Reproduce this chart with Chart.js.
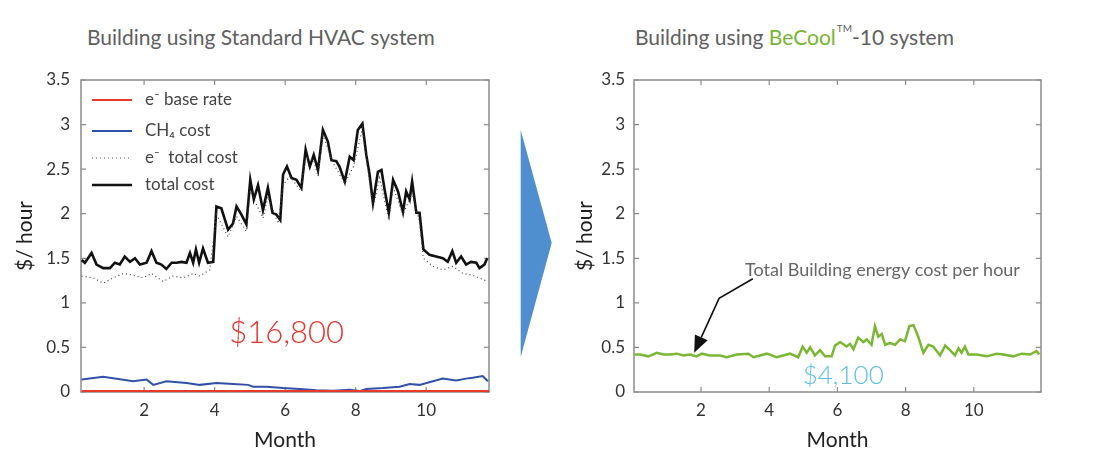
<!DOCTYPE html>
<html>
<head>
<meta charset="utf-8">
<script src="https://cdn.jsdelivr.net/npm/chart.js@4/dist/chart.umd.min.js"></script>
<style>
  body { margin: 0; background: #fff; font-family: Lato, sans-serif; }
  #wrap { position: relative; width: 1100px; height: 457px; overflow: hidden; }
  canvas { position: absolute; top: 0; }
  .title { position: absolute; top: 24px; font-size: 21px; color: #606060; white-space: nowrap; }
  .green { color: #77b633; }
  .tm { font-size: 10px; position: relative; top: -13px; margin-left: 1px; }
</style>
</head>
<body>
<div id="wrap">
  <div class="title" style="left:87px">Building using Standard HVAC system</div>
  <div class="title" style="left:635px">Building using <span class="green">BeCool</span><span class="tm">TM</span>-10 system</div>
  <canvas id="left" width="520" height="457" style="left:0"></canvas>
  <canvas id="right" width="540" height="457" style="left:560px"></canvas>
  <svg width="1100" height="457" style="position:absolute;left:0;top:0;pointer-events:none">
    <polygon points="520.7,130 551.7,243 520.7,357" fill="#4f8fd0"/>
  </svg>
</div>
<script>
// tick labels
var xTicks = [2, 4, 6, 8, 10];
var yTicks = [0, 0.5, 1, 1.5, 2, 2.5, 3, 3.5];

// standard HVAC building: total cost ($/hour)
var totalMonths = [0.23, 0.32, 0.51, 0.65, 0.84, 1.03, 1.17, 1.31, 1.45, 1.60, 1.74, 1.88, 2.07, 2.21, 2.35, 2.49, 2.63, 2.78, 2.92, 3.06,
  3.20, 3.30, 3.39, 3.47, 3.56, 3.67, 3.81, 3.96, 4.05, 4.19, 4.38, 4.52, 4.62, 4.76, 4.90, 5.01, 5.11, 5.23, 5.37, 5.51,
  5.64, 5.75, 5.86, 5.94, 6.05, 6.18, 6.32, 6.46, 6.58, 6.70, 6.81, 6.93, 7.07, 7.21, 7.31, 7.45, 7.54, 7.69, 7.83, 7.94,
  8.06, 8.19, 8.30, 8.39, 8.49, 8.63, 8.73, 8.82, 8.94, 9.06, 9.20, 9.34, 9.43, 9.53, 9.60, 9.72, 9.81, 9.92, 10.09, 10.28,
  10.47, 10.61, 10.74, 10.85, 10.99, 11.13, 11.27, 11.42, 11.51, 11.65, 11.73];
var totalCost = [1.48, 1.45, 1.56, 1.43, 1.39, 1.39, 1.45, 1.43, 1.52, 1.46, 1.50, 1.43, 1.45, 1.58, 1.45, 1.43, 1.38, 1.45, 1.45, 1.46,
  1.45, 1.56, 1.45, 1.60, 1.45, 1.61, 1.45, 1.46, 2.08, 2.06, 1.82, 1.89, 2.08, 1.99, 1.88, 2.38, 2.16, 2.32, 2.04, 2.29,
  2.01, 1.99, 1.93, 2.44, 2.53, 2.40, 2.38, 2.29, 2.72, 2.53, 2.66, 2.49, 2.94, 2.81, 2.60, 2.59, 2.53, 2.36, 2.64, 2.60,
  2.94, 3.01, 2.66, 2.45, 2.12, 2.47, 2.49, 2.27, 2.01, 2.38, 2.25, 2.02, 2.25, 2.16, 2.36, 2.01, 2.01, 1.60, 1.54, 1.52,
  1.50, 1.46, 1.58, 1.45, 1.52, 1.43, 1.46, 1.45, 1.39, 1.43, 1.50];

// electricity total cost
var elecMonths = [0.23, 0.56, 0.84, 1.12, 1.41, 1.69, 1.97, 2.21, 2.54, 2.82, 3.11, 3.39, 3.58, 3.86, 4.05, 4.38, 4.62, 4.90, 5.01, 5.37,
  5.51, 5.80, 5.94, 6.13, 6.46, 6.58, 6.81, 6.93, 7.07, 7.36, 7.69, 7.94, 8.19, 8.49, 8.68, 8.94, 9.06, 9.34, 9.60, 9.81,
  9.92, 10.19, 10.47, 10.76, 11.04, 11.32, 11.51, 11.73];
var elecCost = [1.30, 1.28, 1.22, 1.28, 1.33, 1.31, 1.28, 1.33, 1.24, 1.30, 1.28, 1.33, 1.30, 1.37, 1.99, 1.74, 1.97, 1.80, 2.25, 1.95,
  2.19, 1.89, 2.32, 2.42, 2.25, 2.64, 2.60, 2.42, 2.88, 2.57, 2.34, 2.53, 2.96, 2.06, 2.40, 1.93, 2.30, 1.99, 2.23, 1.91,
  1.50, 1.41, 1.37, 1.41, 1.33, 1.31, 1.28, 1.24];

// gas (CH4) cost and electricity base rate
var gasMonths = [0.23, 0.84, 1.69, 2.07, 2.26, 2.63, 3.20, 3.58, 4.05, 4.52, 4.95, 5.09, 5.47, 5.94, 6.41, 6.88, 7.36, 7.83, 8.11, 8.30,
  8.77, 9.24, 9.53, 9.81, 10.19, 10.47, 10.85, 11.13, 11.32, 11.60, 11.75];
var gasCost = [0.14, 0.17, 0.12, 0.14, 0.08, 0.12, 0.10, 0.08, 0.10, 0.09, 0.08, 0.06, 0.06, 0.045, 0.035, 0.02, 0.015, 0.025, 0.01, 0.035,
  0.045, 0.06, 0.09, 0.08, 0.12, 0.15, 0.13, 0.15, 0.16, 0.18, 0.12];
var baseMonths = [0.23, 4, 8, 11.78];
var baseRate = [0.01, 0.01, 0.01, 0.01];

// BeCool building: total cost
var coolMonths = [0.04, 0.21, 0.46, 0.70, 0.90, 1.09, 1.29, 1.48, 1.68, 1.87, 2.02, 2.26, 2.56, 2.75, 3.05, 3.39, 3.54, 3.93, 4.22, 4.61,
  4.85, 4.98, 5.10, 5.20, 5.34, 5.49, 5.64, 5.83, 5.93, 6.08, 6.27, 6.37, 6.47, 6.61, 6.76, 6.86, 7.00, 7.10, 7.20, 7.30,
  7.40, 7.54, 7.69, 7.84, 7.98, 8.11, 8.23, 8.37, 8.52, 8.67, 8.81, 9.01, 9.16, 9.30, 9.45, 9.55, 9.64, 9.74, 9.84, 10.08,
  10.38, 10.67, 10.87, 11.16, 11.40, 11.65, 11.84, 11.92];
var coolCost = [0.42, 0.42, 0.40, 0.44, 0.42, 0.42, 0.43, 0.41, 0.42, 0.40, 0.43, 0.41, 0.41, 0.39, 0.42, 0.43, 0.39, 0.43, 0.39, 0.43,
  0.39, 0.51, 0.44, 0.50, 0.41, 0.47, 0.40, 0.40, 0.52, 0.56, 0.51, 0.54, 0.48, 0.61, 0.56, 0.59, 0.53, 0.74, 0.62, 0.65,
  0.53, 0.55, 0.53, 0.59, 0.57, 0.74, 0.75, 0.62, 0.44, 0.53, 0.51, 0.41, 0.52, 0.47, 0.41, 0.49, 0.44, 0.51, 0.42, 0.42,
  0.40, 0.43, 0.42, 0.40, 0.43, 0.42, 0.46, 0.42];

var FONT = 'Lato, sans-serif';

function pts(xs, ys) {
  return xs.map(function (m, i) { return { x: m, y: ys[i] }; });
}

// box round the plot with inward tick marks, drawn under the lines
var boxTicks = {
  id: 'boxTicks',
  beforeDatasetsDraw: function (chart) {
    var ctx = chart.ctx, a = chart.chartArea, x = chart.scales.x, y = chart.scales.y;
    ctx.save();
    ctx.strokeStyle = '#8c8c8c';
    ctx.lineWidth = 1.5;
    ctx.strokeRect(a.left, a.top, a.right - a.left, a.bottom - a.top);
    ctx.lineWidth = 1.2;
    ctx.beginPath();
    x.ticks.forEach(function (t) {
      var px = x.getPixelForValue(t.value);
      ctx.moveTo(px, a.bottom); ctx.lineTo(px, a.bottom - 5);
      ctx.moveTo(px, a.top); ctx.lineTo(px, a.top + 5);
    });
    y.ticks.forEach(function (t) {
      var py = y.getPixelForValue(t.value);
      ctx.moveTo(a.left, py); ctx.lineTo(a.left + 5, py);
      ctx.moveTo(a.right, py); ctx.lineTo(a.right - 5, py);
    });
    ctx.stroke();
    ctx.restore();
  }
};

function makeChart(id, datasets, xMin, xMax, yWidth, yPad, padRight, extra) {
  return new Chart(document.getElementById(id), {
    type: 'line',
    data: { datasets: datasets },
    options: {
      responsive: false,
      animation: false,
      layout: { padding: { top: 80, right: padRight, left: 0, bottom: 0 } },
      plugins: { legend: { display: false }, tooltip: { enabled: false } },
      elements: { point: { radius: 0 }, line: { tension: 0 } },
      scales: {
        x: {
          type: 'linear', min: xMin, max: xMax,
          afterBuildTicks: function (s) { s.ticks = xTicks.map(function (v) { return { value: v }; }); },
          afterFit: function (s) { s.height = 65; },
          grid: { display: false, drawTicks: false },
          border: { display: false },
          ticks: { font: { family: FONT, size: 17 }, color: '#333', padding: 8, maxRotation: 0,
            callback: function (v) { return String(v); } },
          title: { display: true, text: 'Month', font: { family: FONT, size: 21 }, color: '#222', padding: { top: 0, bottom: 4 } }
        },
        y: {
          min: 0, max: 3.5,
          afterBuildTicks: function (s) { s.ticks = yTicks.map(function (v) { return { value: v }; }); },
          afterFit: function (s) { s.width = yWidth; },
          grid: { display: false, drawTicks: false },
          border: { display: false },
          ticks: { font: { family: FONT, size: 17 }, color: '#333', padding: yPad,
            callback: function (v) { return String(v); } },
          title: { display: true, text: '$/ hour', font: { family: FONT, size: 21 }, color: '#222', padding: { top: 13, bottom: 0 } }
        }
      }
    },
    plugins: [boxTicks, extra]
  });
}

// left chart: legend and total
var leftNotes = {
  id: 'leftNotes',
  afterDatasetsDraw: function (chart) {
    var ctx = chart.ctx, a = chart.chartArea, x = chart.scales.x, y = chart.scales.y;
    var rows = [
      { label: 'e\u207B base rate', color: '#e8392b', dash: [], w: 2, y: 100 },
      { label: 'CH\u2084 cost', color: '#2f52a8', dash: [], w: 2, y: 131 },
      { label: 'e\u207B  total cost', color: '#555', dash: [1, 3], w: 1.2, y: 158 },
      { label: 'total cost', color: '#111', dash: [], w: 2.6, y: 185 }
    ];
    ctx.save();
    rows.forEach(function (r) {
      ctx.strokeStyle = r.color; ctx.lineWidth = r.w; ctx.setLineDash(r.dash);
      ctx.beginPath(); ctx.moveTo(a.left + 11, r.y); ctx.lineTo(a.left + 51, r.y); ctx.stroke();
      ctx.setLineDash([]);
      ctx.fillStyle = '#444'; ctx.font = '17px ' + FONT;
      ctx.textBaseline = 'middle'; ctx.textAlign = 'left';
      ctx.fillText(r.label, a.left + 64, r.y);
    });
    ctx.fillStyle = '#e8322b'; ctx.font = '300 31px ' + FONT;
    ctx.textAlign = 'center';
    ctx.fillText('$16,800', x.getPixelForValue(6.04), y.getPixelForValue(0.665));
    ctx.restore();
  }
};

// right chart: arrow note and total
var rightNotes = {
  id: 'rightNotes',
  afterDatasetsDraw: function (chart) {
    var ctx = chart.ctx, x = chart.scales.x, y = chart.scales.y;
    function p(m, v) { return [x.getPixelForValue(m), y.getPixelForValue(v)]; }
    var s = p(3.52, 1.27), b = p(2.53, 1.05), t = p(1.8, 0.44);
    ctx.save();
    ctx.strokeStyle = '#111'; ctx.fillStyle = '#111'; ctx.lineWidth = 1.6;
    var ang = Math.atan2(t[1] - b[1], t[0] - b[0]);
    var hl = 17, hw = 7;
    var bx = t[0] - hl * Math.cos(ang), by = t[1] - hl * Math.sin(ang);
    ctx.beginPath(); ctx.moveTo(s[0], s[1]); ctx.lineTo(b[0], b[1]); ctx.lineTo(bx, by); ctx.stroke();
    ctx.beginPath();
    ctx.moveTo(t[0], t[1]);
    ctx.lineTo(bx + hw * Math.sin(ang), by - hw * Math.cos(ang));
    ctx.lineTo(bx - hw * Math.sin(ang), by + hw * Math.cos(ang));
    ctx.closePath(); ctx.fill();
    ctx.fillStyle = '#666'; ctx.font = '18px ' + FONT;
    ctx.textBaseline = 'middle'; ctx.textAlign = 'left';
    var tp = p(3.29, 1.37);
    ctx.fillText('Total Building energy cost per hour', tp[0], tp[1]);
    ctx.fillStyle = '#5bbfea'; ctx.font = '300 26px ' + FONT; ctx.textAlign = 'center';
    var cp = p(6.17, 0.185);
    ctx.fillText('$4,100', cp[0], cp[1]);
    ctx.restore();
  }
};

makeChart('left', [
  { label: 'e- base rate', data: pts(baseMonths, baseRate), borderColor: '#e8392b', borderWidth: 2 },
  { label: 'CH4 cost', data: pts(gasMonths, gasCost), borderColor: '#2f52a8', borderWidth: 2 },
  { label: 'e- total cost', data: pts(elecMonths, elecCost), borderColor: '#444', borderWidth: 1.2, borderDash: [1, 3] },
  { label: 'total cost', data: pts(totalMonths, totalCost), borderColor: '#111', borderWidth: 2.6 }
], 0.21, 11.78, 81, 11, 31, leftNotes);

makeChart('right', [
  { label: 'total cost', data: pts(coolMonths, coolCost), borderColor: '#7ab834', borderWidth: 2.5 }
], 0.035, 11.97, 74, 9, 59, rightNotes);
</script>
</body>
</html>
